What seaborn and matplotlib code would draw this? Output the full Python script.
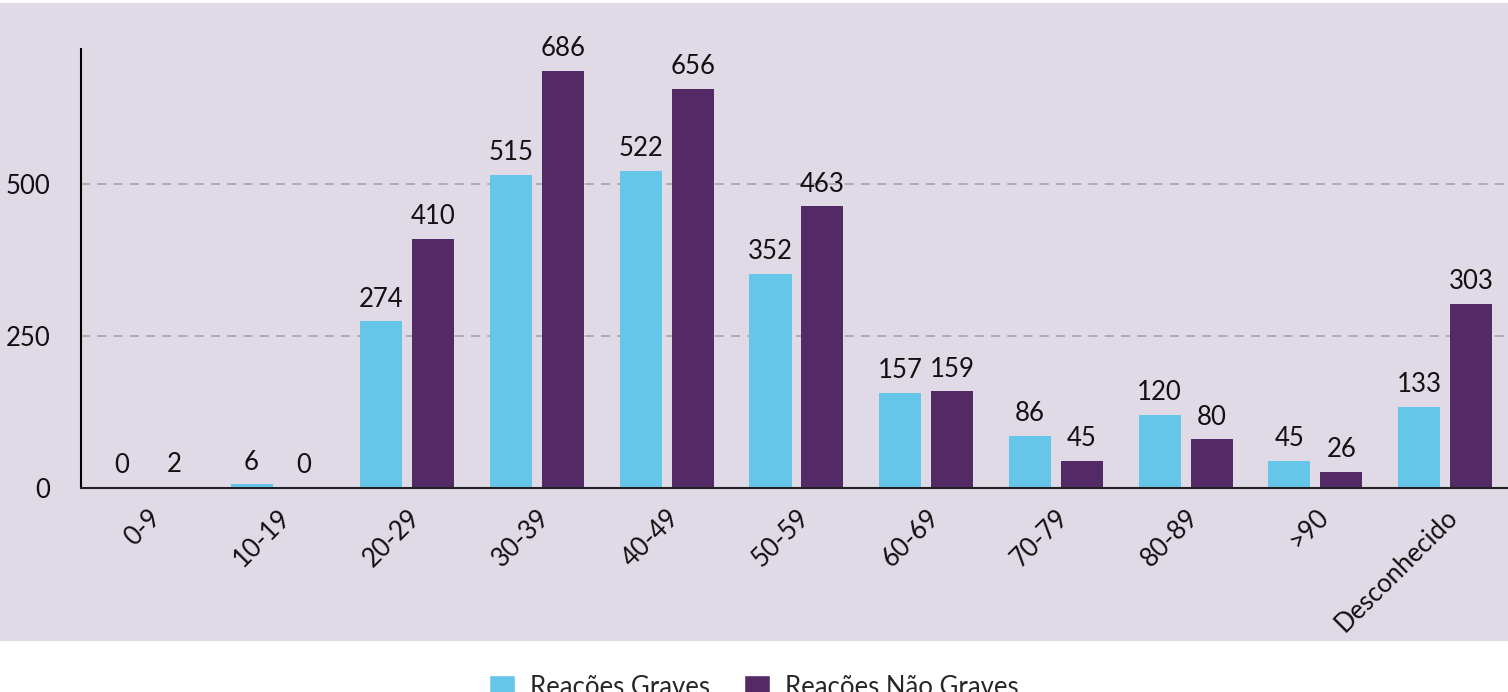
import matplotlib
matplotlib.use("Agg")
import matplotlib.pyplot as plt
import seaborn as sns
import pandas as pd
from matplotlib.patches import Rectangle

faixas = ["0-9", "10-19", "20-29", "30-39", "40-49", "50-59", "60-69",
          "70-79", "80-89", ">90", "Desconhecido"]
graves = [0, 6, 274, 515, 522, 352, 157, 86, 120, 45, 133]
nao_graves = [2, 0, 410, 686, 656, 463, 159, 45, 80, 26, 303]
series = ["Reações Graves", "Reações Não Graves"]
cores = ["#66C6E9", "#532A65"]

df = pd.DataFrame({
    "faixa": faixas * 2,
    "valor": graves + nao_graves,
    "tipo": [series[0]] * len(faixas) + [series[1]] * len(faixas),
})

sns.set_theme(style="white")
plt.rcParams["font.family"] = ["Lato", "DejaVu Sans"]

W, H = 1508, 692
fig = plt.figure(figsize=(W / 100, H / 100), dpi=100)
fig.patch.set_facecolor("white")
# grey panel behind the chart
fig.patches.append(Rectangle((0, 1 - 641 / H), 1, (641 - 3) / H,
                             transform=fig.transFigure, facecolor="#E0DAE6",
                             edgecolor="none", zorder=-10))

ax = fig.add_axes([81 / W, 1 - 488 / H, 1 - 81 / W, (488 - 49) / H])
ax.set_facecolor("none")

sns.barplot(data=df, x="faixa", y="valor", hue="tipo", palette=cores,
            saturation=1, width=0.8, gap=0.19, linewidth=0, ax=ax,
            legend=False, zorder=3)

for c in ax.containers:
    ax.bar_label(c, padding=7, fontsize=18.5, color="#111111")

ax.set_ylim(0, 722)
ax.set_xlim(-0.515, 10.485)
ax.set_yticks([0, 250, 500])
ax.yaxis.grid(True, linestyle=(0, (5, 4)), color="#a9a6ad", linewidth=1.3)
ax.set_axisbelow(True)
ax.tick_params(axis="both", length=0, labelsize=18.5, colors="#111111")
ax.tick_params(axis="y", pad=22)
ax.tick_params(axis="x", pad=12)
plt.setp(ax.get_xticklabels(), rotation=45, ha="right", rotation_mode="anchor")
ax.set_xlabel("")
ax.set_ylabel("")
for s in ["top", "right"]:
    ax.spines[s].set_visible(False)
ax.spines["left"].set_color("black")
ax.spines["left"].set_linewidth(1.5)
ax.spines["bottom"].set_color("#222222")
ax.spines["bottom"].set_linewidth(1.5)
ax.spines["bottom"].set_zorder(5)

handles = [Rectangle((0, 0), 1, 1, facecolor=c) for c in cores]
fig.legend(handles, series, loc="upper center", bbox_to_anchor=(0.5, 1 - 652 / H),
           ncol=2, frameon=False, fontsize=18.5, handlelength=1.0, handleheight=1.0,
           columnspacing=1.3, handletextpad=0.6)

fig.savefig("out.png", dpi=100)
